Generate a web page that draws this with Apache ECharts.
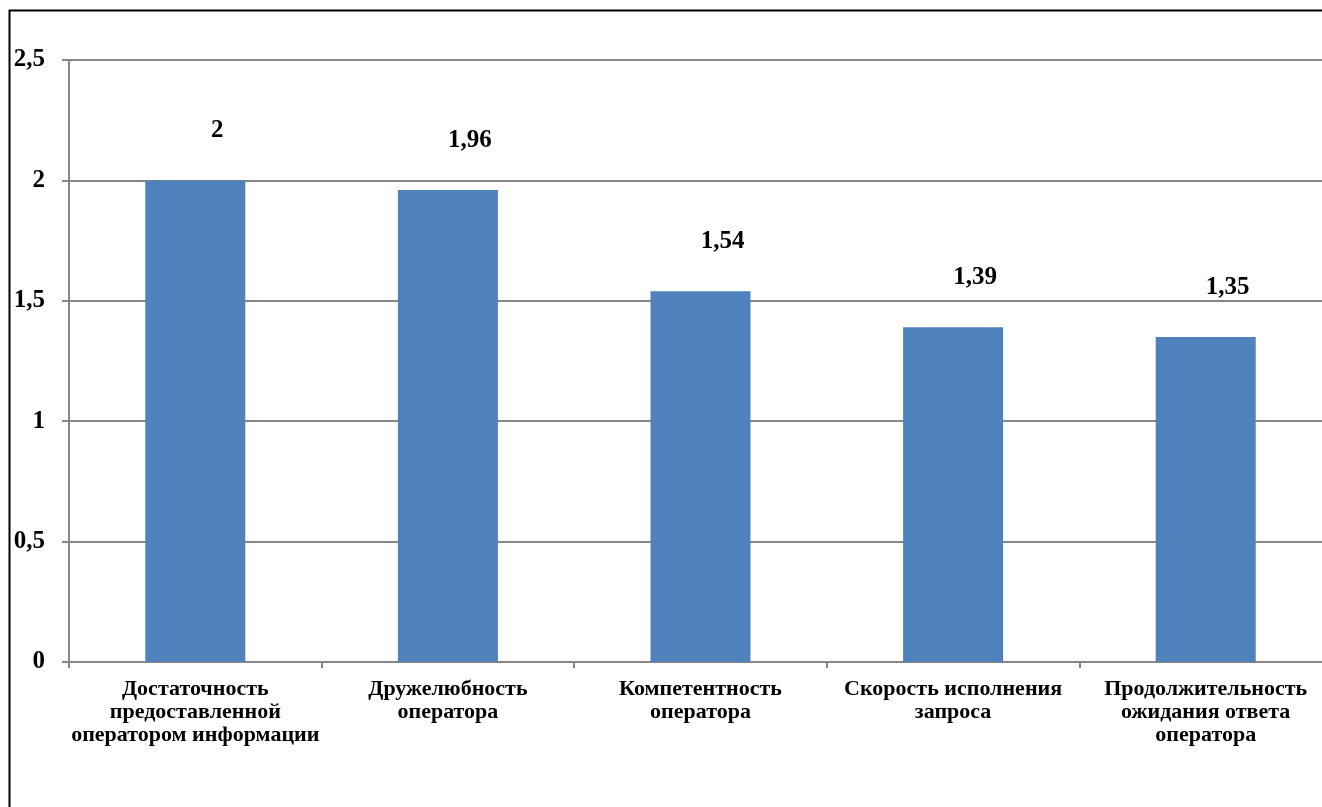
<!DOCTYPE html>
<html>
<head>
<meta charset="utf-8">
<script src="https://cdn.jsdelivr.net/npm/echarts@6/dist/echarts.min.js"></script>
<style>
  html, body { margin: 0; padding: 0; background: #fff; }
  #chart { width: 1322px; height: 807px; }
</style>
</head>
<body>
<div id="chart"></div>
<script>
// Categories and scores
const categories = [
  'Достаточность\nпредоставленной\nоператором информации',
  'Дружелюбность\nоператора',
  'Компетентность\nоператора',
  'Скорость исполнения\nзапроса',
  'Продолжительность\nожидания ответа\nоператора'
];
const scores = [2, 1.96, 1.54, 1.39, 1.35];

const fmt = v => String(v).replace('.', ',');

const chart = echarts.init(document.getElementById('chart'), null, { renderer: 'canvas' });
chart.setOption({
  animation: false,
  backgroundColor: '#fff',
  textStyle: { fontFamily: 'Liberation Serif', fontWeight: 'bold', color: '#000' },
  graphic: [{
    type: 'rect',
    shape: { x: 9.5, y: 10.5, width: 1400, height: 900 },
    style: { fill: 'none', stroke: '#000', lineWidth: 2 },
    silent: true
  }],
  // the plot runs slightly past the right edge of the canvas
  grid: {
    left: 69, width: 1263, top: 60, height: 602,
    containLabel: false,
    outerBoundsMode: 'none'
  },
  xAxis: {
    type: 'category',
    data: categories,
    axisLine: { lineStyle: { color: '#868686', width: 2 } },
    axisTick: { show: true, length: 6, alignWithLabel: false, lineStyle: { color: '#868686', width: 2 } },
    axisLabel: {
      interval: 0,
      margin: 16,
      fontSize: 22,
      lineHeight: 23,
      fontWeight: 'bold',
      fontFamily: 'Liberation Serif',
      color: '#000'
    }
  },
  yAxis: {
    type: 'value',
    min: 0,
    max: 2.5,
    interval: 0.5,
    axisLine: { show: true, lineStyle: { color: '#868686', width: 2 } },
    axisTick: { show: true, length: 7, lineStyle: { color: '#868686', width: 2 } },
    splitLine: { lineStyle: { color: '#868686', width: 2 } },
    axisLabel: {
      margin: 24,
      fontSize: 25,
      fontWeight: 'bold',
      fontFamily: 'Liberation Serif',
      color: '#000',
      formatter: v => fmt(v)
    }
  },
  series: [{
    type: 'bar',
    data: scores,
    barWidth: 100,
    itemStyle: { color: '#4F81BD' },
    label: {
      show: true,
      position: 'top',
      distance: 37,
      offset: [22, 0],
      fontSize: 25,
      fontWeight: 'bold',
      fontFamily: 'Liberation Serif',
      color: '#000',
      formatter: p => fmt(p.value)
    }
  }]
});
</script>
</body>
</html>
